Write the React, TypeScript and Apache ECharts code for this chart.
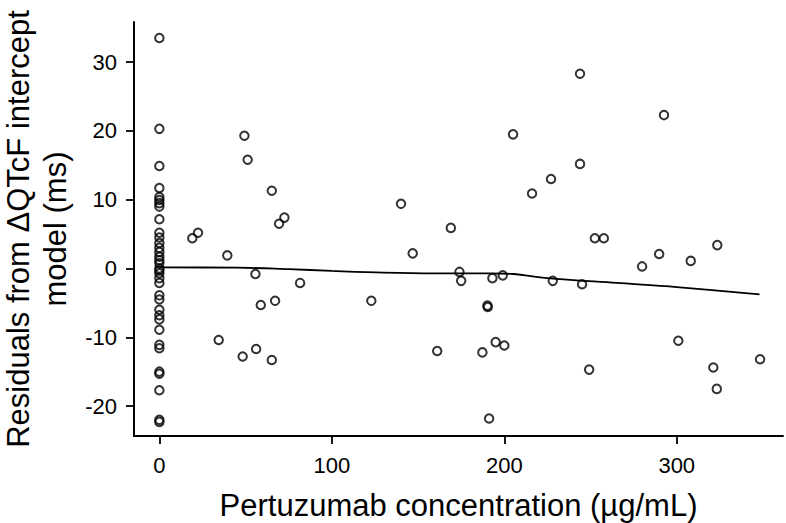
import React, { useEffect, useRef } from "react";
import * as echarts from "echarts";

// Residuals for subjects with zero pertuzumab concentration (x = 0)
const zeroConcResiduals = [
  33.5, 20.3, 14.9, 11.7, 10.4, 9.96, 9.5, 9.0, 7.15, 5.2, 4.5, 3.7, 3.0, 2.4,
  1.7, 1.2, 0.75, 0.0, -0.3, -0.7, -1.4, -2.1, -3.9, -4.5, -6.0, -6.8, -7.4,
  -8.9, -11.1, -11.6, -15.0, -15.3, -17.7, -22.0, -22.3,
];

// Subjects with measurable concentration
const concX = [
  19.1, 22.4, 34.4, 39.4, 48.3, 49.3, 51.2, 55.7, 56.1, 58.8, 65.2, 65.2, 67.1,
  69.4, 72.5, 81.6, 122.9, 140.1, 146.9, 161.1, 169.0, 174.0, 175.0, 187.3,
  190.2, 190.4, 191.2, 193.1, 195.0, 199.1, 200.0, 205.1, 216.1, 227.1, 228.1,
  243.9, 243.9, 245.1, 249.2, 252.5, 257.7, 279.9, 289.8, 292.6, 300.9, 308.1,
  321.2, 323.2, 323.5, 348.3,
];
const concY = [
  4.4, 5.2, -10.4, 1.9, -12.8, 19.3, 15.8, -0.8, -11.7, -5.3, 11.3, -13.3, -4.7,
  6.5, 7.4, -2.1, -4.7, 9.4, 2.2, -12.0, 5.9, -0.5, -1.8, -12.2, -5.4, -5.6,
  -21.8, -1.4, -10.7, -1.0, -11.2, 19.5, 10.9, 13.0, -1.8, 28.3, 15.2, -2.3,
  -14.7, 4.4, 4.4, 0.3, 2.1, 22.3, -10.5, 1.1, -14.4, -17.5, 3.4, -13.2,
];

// Smooth (loess) trend line
const smoothX = [0, 45, 75, 100, 130, 160, 190, 205, 225, 265, 300, 348];
const smoothY = [0.15, 0.12, -0.1, -0.35, -0.6, -0.7, -0.7, -0.8, -1.4, -2.1, -2.7, -3.75];

const xTicks = [0, 100, 200, 300];
const yTicks = [-20, -10, 0, 10, 20, 30];

const xTitle = "Pertuzumab concentration (µg/mL)";
const yTitle = "Residuals from ΔQTcF intercept\nmodel (ms)";

const FONT = "'Liberation Sans', Arial, Helvetica, sans-serif";

export default function App() {
  const ref = useRef<HTMLDivElement>(null);

  useEffect(() => {
    if (!ref.current) return;
    const chart = echarts.init(ref.current, undefined, { renderer: "svg" });

    const scatterData: number[][] = [
      ...zeroConcResiduals.map((v) => [0, v]),
      ...concX.map((x, i) => [x, concY[i]]),
    ];
    const lineData = smoothX.map((x, i) => [x, smoothY[i]]);

    chart.setOption({
      animation: false,
      backgroundColor: "#ffffff",
      grid: {
        left: 134,
        right: 3,
        top: 22,
        bottom: 87,
        containLabel: false,
        outerBoundsMode: "none",
      },
      xAxis: {
        type: "value",
        min: -14.7,
        max: 361.6,
        name: xTitle,
        nameLocation: "middle",
        nameGap: 54,
        nameTextStyle: { fontFamily: FONT, fontSize: 31, color: "#000" },
        splitLine: { show: false },
        axisLine: { show: true, onZero: false, lineStyle: { color: "#000", width: 2 } },
        axisTick: {
          show: true,
          length: 8,
          customValues: xTicks,
          lineStyle: { color: "#000", width: 1.8 },
        },
        axisLabel: {
          customValues: xTicks,
          margin: 18,
          fontFamily: FONT,
          fontSize: 22,
          color: "#000",
        },
      },
      yAxis: {
        type: "value",
        min: -24.35,
        max: 35.83,
        name: yTitle,
        nameLocation: "middle",
        nameRotate: 90,
        nameGap: 58,
        nameTextStyle: {
          fontFamily: FONT,
          fontSize: 31,
          lineHeight: 37,
          color: "#000",
          align: "center",
        },
        splitLine: { show: false },
        axisLine: { show: true, onZero: false, lineStyle: { color: "#000", width: 2 } },
        axisTick: {
          show: true,
          length: 8,
          customValues: yTicks,
          lineStyle: { color: "#000", width: 1.8 },
        },
        axisLabel: {
          customValues: yTicks,
          margin: 17,
          fontFamily: FONT,
          fontSize: 22,
          color: "#000",
        },
      },
      series: [
        {
          type: "scatter",
          data: scatterData,
          symbol: "circle",
          symbolSize: 8.5,
          itemStyle: { color: "rgba(255,255,255,0)", borderColor: "#000", borderWidth: 2 },
          z: 3,
        },
        {
          type: "line",
          data: lineData,
          showSymbol: false,
          symbol: "none",
          smooth: 0.35,
          lineStyle: { color: "#000", width: 1.8 },
          z: 2,
        },
      ],
    });

    return () => chart.dispose();
  }, []);

  return (
    <div
      ref={ref}
      style={{ position: "fixed", left: 0, top: 0, width: 786, height: 523, background: "#fff" }}
    />
  );
}
